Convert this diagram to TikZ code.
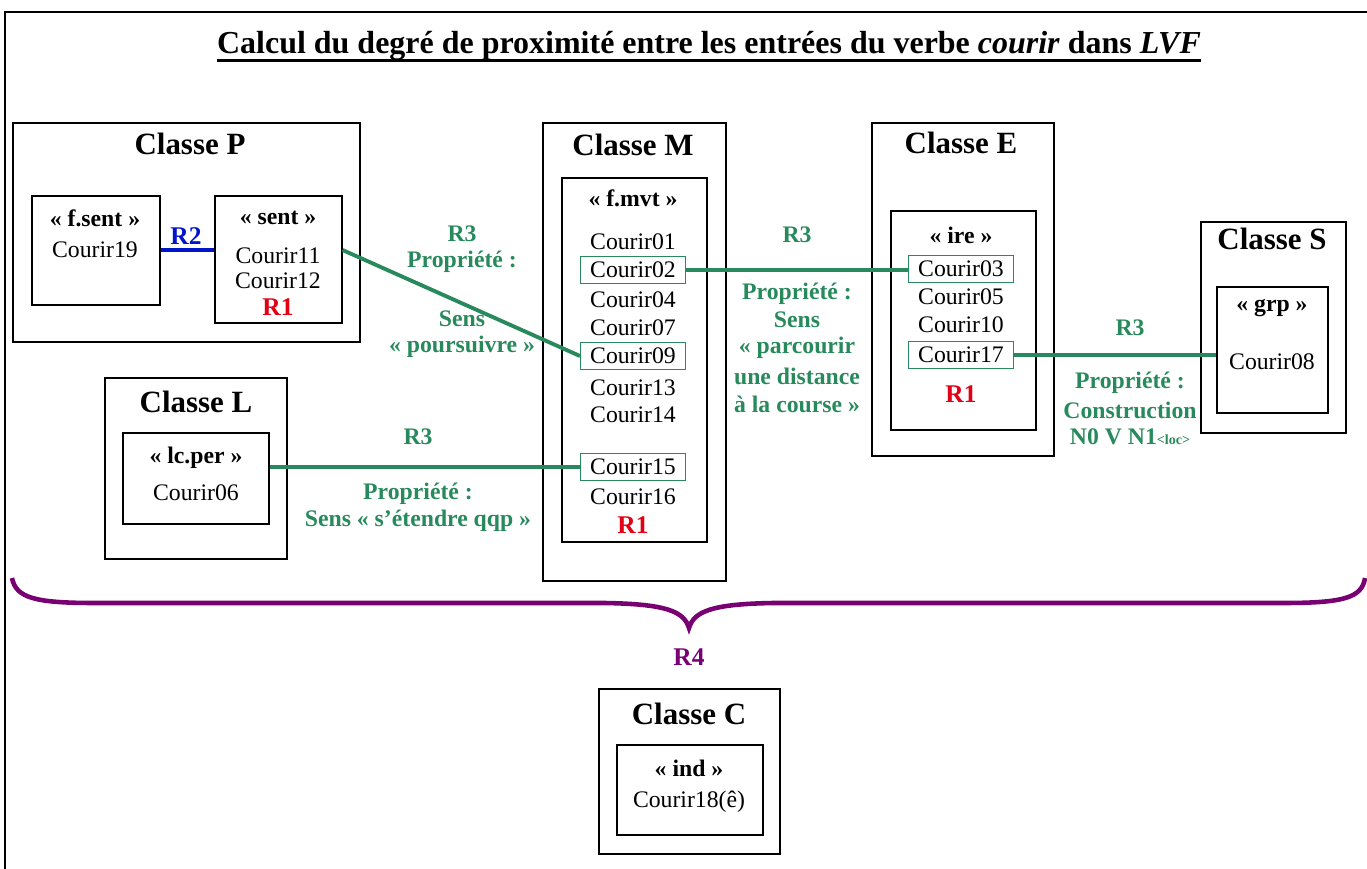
\documentclass[tikz,border=0pt]{standalone}
\usepackage{fontspec}
\setmainfont{Liberation Serif}
\usepackage{xcolor}
\usetikzlibrary{calc}

\definecolor{relgreen}{RGB}{40,138,92}
\definecolor{redR}{RGB}{225,0,20}
\definecolor{blueR}{RGB}{0,20,200}
\definecolor{purpleR}{RGB}{120,0,115}
\newcommand{\pxu}{0.02cm}

\begin{document}
\begin{tikzpicture}[x=0.02cm, y=-0.02cm,
	outer/.style={draw, line width=0.9pt, anchor=north west, inner sep=0pt},
	inner/.style={draw, line width=0.9pt, anchor=north west, inner sep=0pt},
	cname/.style={font=\fontsize{17.6}{20}\selectfont\bfseries},
	tag/.style={font=\fontsize{13.5}{16}\selectfont\bfseries},
	entry/.style={font=\fontsize{13.5}{16}\selectfont, inner sep=0pt},
	hit/.style={draw=relgreen, line width=0.6pt, minimum width=105*\pxu, minimum height=27*\pxu},
	rel/.style={draw=relgreen, line width=2.2pt},
	lbl/.style={text=relgreen, font=\fontsize{13.5}{16}\selectfont\bfseries, align=center, inner sep=0pt},
	rfirst/.style={text=redR, font=\fontsize{14.5}{17}\selectfont\bfseries}]
	
	\useasboundingbox (0,0) rectangle (1367,869);
	
	% frame and title
	\draw[line width=0.9pt] (5,869) -- (5,12) -- (1367,12);
	\node[font=\fontsize{18.2}{21}\selectfont\bfseries, inner sep=0pt] (title) at (709,46)
		{Calcul du degré de proximité entre les entrées du verbe \textit{courir} dans \textit{LVF}};
	\draw[line width=2pt] ([yshift=-3.8pt]title.base west) -- ([yshift=-3.8pt]title.base east);
	
	% classe P
	\node[outer, minimum width=347*\pxu, minimum height=219*\pxu] (P) at (12,122) {};
	\node[cname] (Pname) at (190,144) {Classe P};
	\node[inner, minimum width=128*\pxu, minimum height=109*\pxu] (fsent) at (31,195) {};
	\node[tag] (fsentT) at (95,218) {« f.sent »};
	\node[entry] (c19) at (95,250) {Courir19};
	\node[inner, minimum width=127*\pxu, minimum height=127*\pxu] (sent) at (214,195) {};
	\node[tag] (sentT) at (278,218) {« sent »};
	\node[entry] (c11) at (278,256) {Courir11};
	\node[entry] (c12) at (278,281) {Courir12};
	\node[rfirst] (sentR) at (278,307) {R1};
	
	% classe M
	\node[outer, minimum width=183*\pxu, minimum height=458*\pxu] (M) at (542,122) {};
	\node[cname] (Mname) at (633,145) {Classe M};
	\node[inner, minimum width=145*\pxu, minimum height=364*\pxu] (fmvt) at (561,177) {};
	\node[tag] (fmvtT) at (633,198) {« f.mvt »};
	\node[entry] (c01) at (633,242) {Courir01};
	\node[entry, hit] (c02) at (633,270) {Courir02};
	\node[entry] (c04) at (633,300) {Courir04};
	\node[entry] (c07) at (633,328) {Courir07};
	\node[entry, hit] (c09) at (633,356) {Courir09};
	\node[entry] (c13) at (633,388) {Courir13};
	\node[entry] (c14) at (633,415) {Courir14};
	\node[entry, hit] (c15) at (633,467) {Courir15};
	\node[entry] (c16) at (633,497) {Courir16};
	\node[rfirst] (fmvtR) at (633,525) {R1};
	
	% classe E
	\node[outer, minimum width=182*\pxu, minimum height=333*\pxu] (E) at (871,122) {};
	\node[cname] (Ename) at (961,143) {Classe E};
	\node[inner, minimum width=145*\pxu, minimum height=219*\pxu] (ire) at (890,210) {};
	\node[tag] (ireT) at (961,235) {« ire »};
	\node[entry, hit] (c03) at (961,269) {Courir03};
	\node[entry] (c05) at (961,297) {Courir05};
	\node[entry] (c10) at (961,325) {Courir10};
	\node[entry, hit] (c17) at (961,355) {Courir17};
	\node[rfirst] (ireR) at (961,394) {R1};
	
	% classe S
	\node[outer, minimum width=145*\pxu, minimum height=211*\pxu] (S) at (1200,221) {};
	\node[cname] (Sname) at (1272,239) {Classe S};
	\node[inner, minimum width=111*\pxu, minimum height=126*\pxu] (grp) at (1216,286) {};
	\node[tag] (grpT) at (1272,308) {« grp »};
	\node[entry] (c08) at (1272,362) {Courir08};
	
	% classe L
	\node[outer, minimum width=182*\pxu, minimum height=181*\pxu] (L) at (104,377) {};
	\node[cname] (Lname) at (196,402) {Classe L};
	\node[inner, minimum width=146*\pxu, minimum height=91*\pxu] (lcper) at (122,432) {};
	\node[tag] (lcperT) at (196,458) {« lc.per »};
	\node[entry] (c06) at (196,493) {Courir06};
	
	% classe C
	\node[outer, minimum width=181*\pxu, minimum height=165*\pxu] (C) at (598,688) {};
	\node[cname] (Cname) at (689,714) {Classe C};
	\node[inner, minimum width=146*\pxu, minimum height=90*\pxu] (ind) at (616,744) {};
	\node[tag] (indT) at (689,768) {« ind »};
	\node[entry] (c18) at (689,802) {Courir18(ê)};
	
	% R2
	\draw[line width=2.2pt, blueR] (fsent.east |- c19) -- (sent.west |- c19);
	\node[text=blueR, font=\fontsize{14.5}{17}\selectfont\bfseries] (rtwo) at (186,236) {R2};
	
	% R3 links
	\draw[rel] (sent.east |- 0,250) -- (c09.west);
	\node[lbl] (lpa) at (462,234) {R3};
	\node[lbl] (lpb) at (462,262) {Propriété :};
	\node[lbl] (lpc) at (462,319) {Sens};
	\node[lbl] (lpd) at (462,347) {« poursuivre »};
	
	\draw[rel] (c02.east) -- (c03.west |- c02.east);
	\node[lbl] (lea) at (797,235) {R3};
	\node[lbl] (leb) at (797,294) {Propriété :};
	\node[lbl] (lec) at (797,320) {Sens};
	\node[lbl] (led) at (797,348) {« parcourir};
	\node[lbl] (lee) at (797,376) {une distance};
	\node[lbl] (lef) at (797,404) {à la course »};
	
	\draw[rel] (lcper.east |- c15) -- (c15.west);
	\node[lbl] (lla) at (418,437) {R3};
	\node[lbl] (llb) at (418,494) {Propriété :};
	\node[lbl] (llc) at (418,521) {Sens « s’étendre qqp »};
	
	\draw[rel] (c17.east) -- (grp.west |- c17);
	\node[lbl] (lsa) at (1130,328) {R3};
	\node[lbl] (lsb) at (1130,383) {Propriété :};
	\node[lbl] (lsc) at (1130,410) {Construction};
	\node[lbl] (lsd) at (1130,437) {N0 V N1{\fontsize{8}{9}\selectfont<loc>}};
	
	% R4 brace
	\coordinate (tip) at (689,628);
	\draw[purpleR, line width=2.6pt] (12,578) .. controls (16,598) and (35,603) .. (95,603) -- (605,603)
		.. controls (665,604) and (684,611) .. (tip) .. controls (694,611) and (713,604) .. (773,603)
		-- (1283,603) .. controls (1343,603) and (1362,598) .. (1365,578);
	\node[text=purpleR, font=\fontsize{14.5}{17}\selectfont\bfseries] (rfour) at (689,657) {R4};
	
\end{tikzpicture}
\end{document}
